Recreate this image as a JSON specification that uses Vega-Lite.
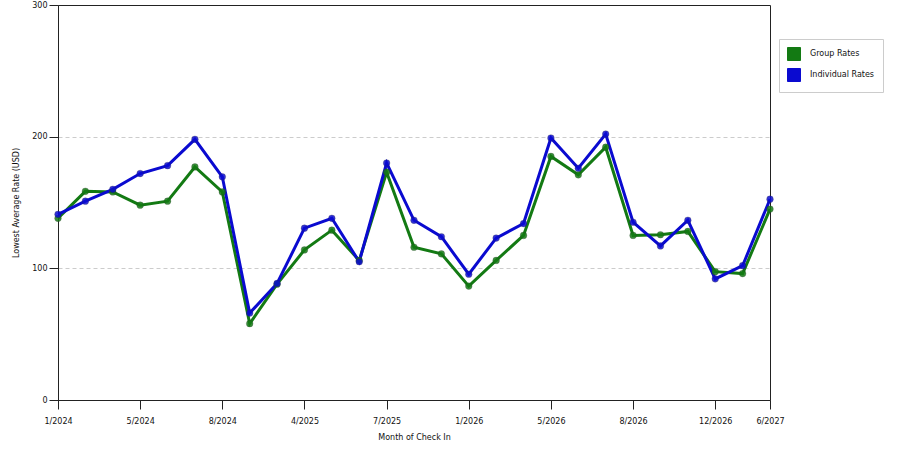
{
  "$schema": "https://vega.github.io/schema/vega-lite/v6.json",
  "width": 712,
  "height": 395,
  "autosize": {"type": "none"},
  "padding": {"left": 58, "top": 5, "right": 130, "bottom": 50},
  "background": "white",
  "config": {
    "view": {"stroke": "#222", "strokeWidth": 1},
    "font": "DejaVu Sans",
    "axis": {"labelFont": "DejaVu Sans", "titleFont": "DejaVu Sans", "labelFontSize": 8, "titleFontSize": 8, "titleFontWeight": "normal", "labelColor": "#111", "titleColor": "#111", "domainColor": "#222", "tickColor": "#222", "tickSize": 9},
    "legend": {"labelFont": "DejaVu Sans", "labelFontSize": 8, "labelColor": "#111"}
  },
  "data": {
    "values": [
      {"month": "1/2024", "series": "Group Rates", "rate": 138},
      {"month": "3/2024", "series": "Group Rates", "rate": 158.5},
      {"month": "4/2024", "series": "Group Rates", "rate": 158},
      {"month": "5/2024", "series": "Group Rates", "rate": 148},
      {"month": "6/2024", "series": "Group Rates", "rate": 151},
      {"month": "7/2024", "series": "Group Rates", "rate": 177},
      {"month": "8/2024", "series": "Group Rates", "rate": 158},
      {"month": "9/2024", "series": "Group Rates", "rate": 58},
      {"month": "12/2024", "series": "Group Rates", "rate": 88},
      {"month": "4/2025", "series": "Group Rates", "rate": 114},
      {"month": "5/2025", "series": "Group Rates", "rate": 129},
      {"month": "6/2025", "series": "Group Rates", "rate": 106},
      {"month": "7/2025", "series": "Group Rates", "rate": 173},
      {"month": "9/2025", "series": "Group Rates", "rate": 116},
      {"month": "11/2025", "series": "Group Rates", "rate": 111},
      {"month": "1/2026", "series": "Group Rates", "rate": 86.5},
      {"month": "3/2026", "series": "Group Rates", "rate": 106},
      {"month": "4/2026", "series": "Group Rates", "rate": 125},
      {"month": "5/2026", "series": "Group Rates", "rate": 185},
      {"month": "6/2026", "series": "Group Rates", "rate": 171},
      {"month": "7/2026", "series": "Group Rates", "rate": 192},
      {"month": "8/2026", "series": "Group Rates", "rate": 125},
      {"month": "10/2026", "series": "Group Rates", "rate": 125.5},
      {"month": "11/2026", "series": "Group Rates", "rate": 128},
      {"month": "12/2026", "series": "Group Rates", "rate": 97.5},
      {"month": "3/2027", "series": "Group Rates", "rate": 96},
      {"month": "6/2027", "series": "Group Rates", "rate": 145},
      {"month": "1/2024", "series": "Individual Rates", "rate": 141},
      {"month": "3/2024", "series": "Individual Rates", "rate": 151},
      {"month": "4/2024", "series": "Individual Rates", "rate": 160},
      {"month": "5/2024", "series": "Individual Rates", "rate": 172},
      {"month": "6/2024", "series": "Individual Rates", "rate": 178},
      {"month": "7/2024", "series": "Individual Rates", "rate": 198},
      {"month": "8/2024", "series": "Individual Rates", "rate": 169.5},
      {"month": "9/2024", "series": "Individual Rates", "rate": 66},
      {"month": "12/2024", "series": "Individual Rates", "rate": 88.5},
      {"month": "4/2025", "series": "Individual Rates", "rate": 130.5},
      {"month": "5/2025", "series": "Individual Rates", "rate": 138},
      {"month": "6/2025", "series": "Individual Rates", "rate": 105},
      {"month": "7/2025", "series": "Individual Rates", "rate": 180},
      {"month": "9/2025", "series": "Individual Rates", "rate": 136.5},
      {"month": "11/2025", "series": "Individual Rates", "rate": 124},
      {"month": "1/2026", "series": "Individual Rates", "rate": 95.5},
      {"month": "3/2026", "series": "Individual Rates", "rate": 123},
      {"month": "4/2026", "series": "Individual Rates", "rate": 134},
      {"month": "5/2026", "series": "Individual Rates", "rate": 199},
      {"month": "6/2026", "series": "Individual Rates", "rate": 176},
      {"month": "7/2026", "series": "Individual Rates", "rate": 202},
      {"month": "8/2026", "series": "Individual Rates", "rate": 135},
      {"month": "10/2026", "series": "Individual Rates", "rate": 117},
      {"month": "11/2026", "series": "Individual Rates", "rate": 136.5},
      {"month": "12/2026", "series": "Individual Rates", "rate": 92},
      {"month": "3/2027", "series": "Individual Rates", "rate": 102},
      {"month": "6/2027", "series": "Individual Rates", "rate": 152.5}
    ]
  },
  "encoding": {
    "x": {
      "field": "month",
      "type": "ordinal",
      "sort": null,
      "scale": {"type": "point", "padding": 0},
      "axis": {
        "title": "Month of Check In",
        "labelAngle": 0,
        "values": ["1/2024", "5/2024", "8/2024", "4/2025", "7/2025", "1/2026", "5/2026", "8/2026", "12/2026", "6/2027"],
        "grid": false,
        "labelPadding": 8,
        "titlePadding": 8
      }
    },
    "y": {
      "field": "rate",
      "type": "quantitative",
      "scale": {"domain": [0, 300], "nice": false},
      "axis": {
        "title": "Lowest Average Rate (USD)",
        "values": [0, 100, 200, 300],
        "grid": true,
        "gridColor": "#cccccc",
        "gridDash": [4, 3],
        "gridOpacity": {"condition": {"test": "datum.value === 300 || datum.value === 0", "value": 0}, "value": 1},
        "labelPadding": 2,
        "titlePadding": 11
      }
    },
    "color": {
      "field": "series",
      "type": "nominal",
      "scale": {"domain": ["Group Rates", "Individual Rates"], "range": ["#137a13", "#0a0ad0"]},
      "legend": {
        "title": null,
        "orient": "none",
        "legendX": 721,
        "legendY": 34,
        "symbolType": "square",
        "symbolSize": 169,
        "symbolStrokeWidth": 1,
        "labelOffset": 9,
        "rowPadding": 3,
        "padding": 8,
        "strokeColor": "#cccccc",
        "fillColor": "white",
        "encode": {
          "symbols": {
            "update": {
              "fill": {"scale": "color", "field": "value"},
              "stroke": {"value": "#333333"},
              "opacity": {"value": 1}
            }
          }
        }
      }
    }
  },
  "layer": [
    {"mark": {"type": "line", "strokeWidth": 3}},
    {"mark": {"type": "point", "filled": true, "size": 45, "opacity": 0.85, "stroke": "#333", "strokeWidth": 0.3}}
  ]
}
